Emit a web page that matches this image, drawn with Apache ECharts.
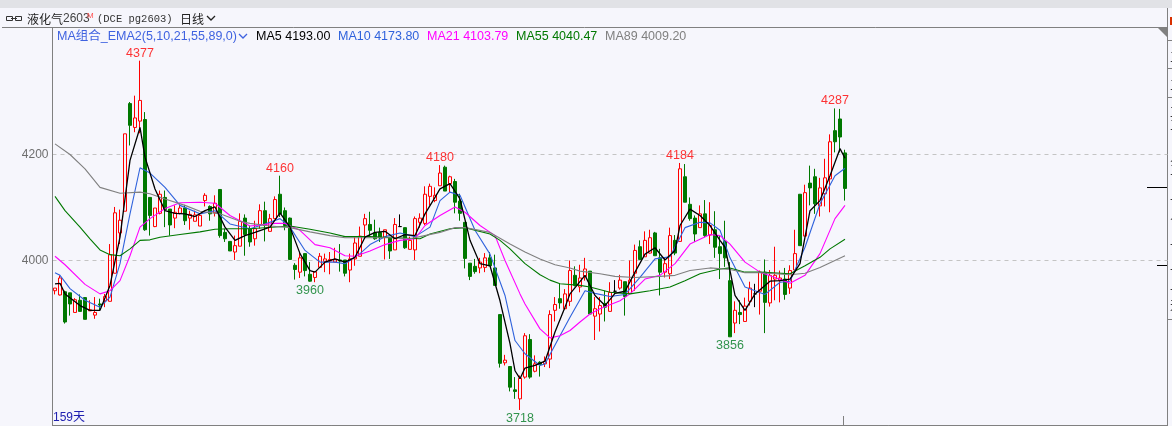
<!DOCTYPE html>
<html><head><meta charset="utf-8">
<style>html,body{margin:0;padding:0;background:#f6f6fc;overflow:hidden}#c{width:1172px;height:426px}</style>
<script src="https://cdn.jsdelivr.net/npm/echarts@6/dist/echarts.min.js"></script>
</head><body><div id="c"></div>
<script>
const opens=[3943,3935,3941,3939,3902,3925,3930,3905,3897,3918,3924,3923,3976,4052,4093,4296,4251,4263,4266,4119,4064,4089,4119,4097,4080,4089,4099,4080,4074,4065,4113,4102,4090,4134,4053,4036,4016,4027,4080,4060,4041,4068,4094,4055,4079,4125,4094,4080,3991,3978,4013,3974,3968,3987,3998,3999,3997,4001,4001,3982,4003,4008,4067,4068,4052,4053,4044,4044,4020,4064,4062,4021,4020,4072,4070,4121,4113,4141,4176,4145,4149,4112,4072,3995,3989,3986,3987,4005,3986,3898,3807,3800,3756,3739,3780,3851,3791,3808,3805,3814,3906,3928,3909,3923,3972,3950,3970,3980,3895,3899,3919,3904,3942,3948,3960,3938,3976,4026,4007,4014,4052,4005,3978,3975,4038,4036,4158,4106,4080,4062,4088,4048,4058,4026,4036,3962,3882,3902,3885,3923,3937,3942,3978,3920,3965,3962,3965,3948,3982,4125,4046,4146,4158,4103,4126,4154,4245,4267,4203];
const closes=[3948,3967,3884,3918,3926,3904,3889,3907,3902,3916,3932,4011,4090,4076,4239,4255,4269,4302,4058,4085,4099,4125,4096,4067,4091,4099,4075,4087,4086,4085,4123,4088,4108,4047,4041,4018,4028,4074,4049,4035,4060,4094,4066,4079,4115,4088,4066,4002,3983,4005,3981,3961,3979,4008,4003,4002,4002,3999,3976,4003,4033,4046,4079,4057,4041,4043,4058,4018,4068,4064,4024,4038,4079,4080,4125,4140,4123,4165,4131,4158,4110,4089,4004,3970,3979,3997,4005,3990,3953,3806,3812,3761,3753,3778,3858,3780,3805,3804,3810,3898,3917,3920,3937,3981,3953,3967,3984,3899,3909,3915,3912,3940,3942,3963,3932,3963,4019,4002,4038,4043,4009,3978,3994,4047,4014,4173,4110,4079,4050,4088,4047,4066,4025,4013,4005,3856,3906,3898,3914,3948,3937,3978,3921,3972,3972,3967,3936,3981,4013,4028,4128,4137,4107,4137,4156,4224,4224,4233,4136];
const lows=[3936,3934,3881,3896,3902,3904,3889,3905,3890,3906,3912,3923,3976,4031,4093,4217,4242,4240,4056,4047,4063,4087,4063,4047,4061,4087,4067,4058,4074,4065,4102,4075,4083,4043,4035,4018,4001,4027,4009,4026,4028,4060,4036,4055,4079,4082,4057,4002,3964,3967,3970,3960,3959,3987,3978,3974,3997,3979,3970,3959,3990,4008,4044,4044,4039,4035,4002,4003,4020,4064,4022,4021,4001,4062,4067,4104,4110,4141,4131,4129,4089,4075,3985,3963,3975,3976,3978,3990,3953,3798,3802,3753,3739,3718,3777,3777,3789,3781,3799,3797,3885,3909,3908,3914,3951,3940,3962,3899,3850,3866,3885,3904,3937,3945,3896,3937,3943,4002,4007,4013,4009,3934,3968,3965,4010,4036,4110,4075,4035,4062,4044,4031,4005,3965,3988,3856,3863,3880,3885,3915,3912,3898,3863,3913,3925,3921,3926,3937,3982,4028,4046,4104,4088,4083,4102,4091,4204,4204,4113];
const highs=[3948,3972,3943,3939,3929,3936,3931,3925,3931,3928,3937,4031,4101,4096,4239,4299,4311,4377,4280,4119,4099,4132,4132,4097,4104,4105,4105,4094,4094,4088,4127,4104,4123,4134,4060,4036,4047,4089,4087,4066,4075,4106,4111,4088,4121,4160,4100,4081,3995,4016,4013,3997,3979,4014,4013,4016,4024,4031,4001,4013,4044,4064,4088,4092,4077,4062,4058,4044,4080,4087,4062,4045,4083,4089,4140,4145,4138,4180,4179,4160,4154,4126,4072,3995,4003,4005,4014,4016,4011,3898,3822,3800,3780,3783,3863,3861,3821,3810,3819,3906,3931,3956,3946,4000,3989,3992,4005,3980,3931,3931,3943,3959,3963,3973,3960,4000,4030,4038,4055,4058,4054,4022,4005,4062,4048,4184,4182,4119,4085,4104,4114,4110,4093,4047,4075,3997,3923,3925,3930,3960,3956,3981,4002,3982,4026,3981,3986,3991,4058,4125,4143,4179,4173,4156,4192,4238,4287,4286,4209];
// moving-average points: [bar number, price]
const ma5Points=[[0,3956],[1,3957],[2,3937],[5,3915],[7,3906],[9,3906],[11,3953],[13,4044],[15,4189],[17,4251],[18,4195],[20,4135],[22,4094],[24,4089],[26,4088],[28,4083],[30,4094],[32,4101],[34,4063],[36,4038],[38,4047],[40,4053],[43,4063],[45,4090],[47,4063],[49,4013],[51,3981],[52,3978],[54,3997],[56,4003],[58,3997],[60,4006],[62,4044],[64,4053],[66,4055],[68,4041],[70,4049],[72,4047],[74,4088],[76,4119],[77,4135],[79,4145],[81,4116],[83,4038],[85,3994],[87,3990],[89,3924],[91,3843],[92,3792],[93,3777],[94,3797],[96,3802],[98,3810],[100,3865],[102,3912],[103,3937],[106,3972],[108,3934],[110,3915],[112,3938],[114,3942],[116,3978],[118,4012],[120,4024],[122,4001],[124,4019],[125,4066],[127,4097],[129,4085],[131,4066],[133,4038],[134,4025],[135,3981],[136,3934],[138,3906],[140,3937],[141,3945],[143,3961],[145,3962],[147,3965],[149,3994],[151,4094],[153,4113],[155,4160],[157,4211],[158,4193]];
const ma10Points=[[0,3977],[1,3972],[3,3947],[6,3925],[9,3912],[11,3931],[13,3994],[15,4088],[17,4175],[19,4165],[22,4138],[25,4104],[29,4088],[32,4094],[35,4069],[39,4060],[42,4069],[45,4079],[47,4063],[50,4019],[53,3997],[56,3997],[58,3994],[61,4013],[63,4030],[66,4045],[69,4052],[72,4045],[75,4063],[77,4113],[79,4129],[81,4123],[84,4057],[87,4012],[90,3934],[92,3849],[94,3824],[97,3802],[98,3805],[101,3858],[103,3893],[106,3943],[108,3938],[111,3932],[114,3936],[117,3968],[120,4003],[123,4007],[126,4062],[129,4072],[131,4071],[133,4057],[135,4005],[138,3950],[142,3936],[145,3959],[147,3961],[150,4025],[153,4107],[156,4160],[158,4174]];
const ma21Points=[[0,4008],[2,3992],[6,3955],[9,3937],[11,3943],[13,3962],[15,4009],[17,4063],[19,4079],[22,4098],[25,4109],[29,4110],[32,4108],[35,4085],[39,4065],[44,4070],[46,4070],[49,4057],[52,4030],[55,4024],[58,4009],[60,4008],[63,4018],[66,4030],[69,4038],[72,4041],[74,4066],[77,4085],[80,4101],[82,4091],[85,4066],[88,4047],[90,4000],[93,3937],[94,3918],[97,3871],[99,3854],[101,3858],[103,3868],[105,3884],[107,3899],[109,3909],[113,3924],[115,3937],[118,3965],[121,3972],[124,3994],[127,4031],[131,4049],[133,4047],[135,4031],[138,3997],[141,3978],[144,3968],[147,3957],[150,3972],[153,4013],[156,4079],[158,4104]];
const ma55Points=[[0,4121],[2,4094],[5,4063],[7,4041],[9,4020],[11,4011],[13,4009],[15,4022],[17,4038],[19,4039],[21,4044],[25,4049],[29,4054],[32,4059],[35,4060],[39,4060],[47,4065],[51,4059],[55,4052],[58,4045],[63,4045],[68,4043],[73,4041],[75,4050],[79,4060],[82,4062],[87,4050],[89,4038],[91,4022],[94,3994],[97,3973],[99,3963],[101,3956],[105,3953],[107,3950],[111,3940],[115,3937],[119,3943],[123,3950],[126,3962],[129,3975],[133,3984],[135,3986],[138,3978],[141,3978],[147,3975],[150,3990],[153,4006],[155,4022],[158,4040]];
const ma89Points=[[0,4220],[3,4200],[6,4173],[9,4138],[13,4127],[17,4129],[19,4126],[22,4116],[26,4104],[29,4093],[33,4088],[37,4074],[39,4070],[43,4065],[47,4062],[51,4054],[55,4047],[58,4043],[63,4043],[68,4043],[71,4041],[73,4045],[77,4053],[80,4062],[82,4062],[87,4053],[91,4031],[94,4016],[97,4003],[100,3992],[103,3986],[105,3980],[109,3975],[112,3970],[116,3968],[121,3970],[124,3972],[127,3981],[131,3986],[135,3983],[138,3977],[141,3977],[147,3973],[150,3976],[153,3987],[158,4009]];
const highMarks=[17,45,77,125,156];
const lowMarks=[51,93,135];
const yTicks=[4000,4200];
const maNames=['MA5','MA10','MA21','MA55','MA89'];
const maLast=['4193.00','4173.80','4103.79','4040.47','4009.20'];
const comboLabel='MA组合_EMA2(5,10,21,55,89,0)';
const titleParts=['液化气','2603','M','(DCE pg2603)','日线'];
const dayCount='159天';
const sideGlyphs=['三','三','工','三','人','三','上','人','上','上','上','天'];

const RED='#ff0000',GREEN='#007800';
const maColors=['#000000','#2f62dc','#ff00ff','#007800','#808080'];
const maLists=[ma5Points,ma10Points,ma21Points,ma55Points,ma89Points];
const slots=223;
const cats=Array.from({length:slots},(_,i)=>String(i));
const candle=opens.map((o,i)=>[o,closes[i],lows[i],highs[i]]);
const txt=(x,y,text,fill,font)=>({type:'text',silent:true,x,y,style:{text,fill,font,verticalAlign:'middle'}});
const ln=(x1,y1,x2,y2,stroke)=>({type:'line',silent:true,shape:{x1,y1,x2,y2},style:{stroke,lineWidth:1}});
const chev=(x,y,stroke)=>({type:'polyline',silent:true,shape:{points:[[x,y],[x+4,y+4],[x+8,y]]},style:{stroke,fill:null,lineWidth:1.3}});
const LAT='"Liberation Sans",Arial,sans-serif',CJK='"Noto Sans CJK SC",sans-serif';
const maX=[256,338,427,516,605];
const sideY=[57,85,112,125,157,170,195,215,240,265,285,305];
const graphics=[
 {type:'rect',silent:true,z:-1,shape:{x:0,y:0,width:1172,height:8},style:{fill:'#e1e2e6'}},
 ln(2,27.5,1167,27.5,'#808080'),
 ln(1167.5,8,1167.5,426,'#808080'),
 ln(843.5,416,843.5,425,'#808080'),
 {type:'polygon',silent:true,shape:{points:[[1158,28],[1167,28],[1167,37]]},style:{fill:'#808080'}},
 {type:'rect',silent:true,shape:{x:6.5,y:16.5,width:6,height:4},style:{stroke:'#333',fill:null,lineWidth:1}},
 {type:'rect',silent:true,shape:{x:15.5,y:16.5,width:6,height:4},style:{stroke:'#333',fill:null,lineWidth:1}},
 ln(11,18.5,17,18.5,'#333'),
 txt(27,19,titleParts[0],'#222','12px '+CJK),
 txt(63,19,titleParts[1],'#444','12px '+LAT),
 txt(87,16,titleParts[2],'#ff5050','8px '+LAT),
 txt(97,19,titleParts[3],'#333','10.5px "Liberation Mono",monospace'),
 txt(180,19,titleParts[4],'#222','12px '+CJK),
 chev(207,16,'#222'),
 txt(57,37,comboLabel,'#3f62e0','12.5px '+LAT+','+CJK),
 chev(239,34,'#3f62e0'),
 txt(53,418,dayCount,'#2020b0','12px '+LAT+','+CJK),
 ln(1147,187.5,1167,187.5,'#000'),
 ln(1157,265.5,1167,265.5,'#000'),
 {type:'rect',silent:true,shape:{x:1170,y:17,width:2,height:8},style:{fill:'#d83000'}},
 ln(1168,40.5,1172,40.5,'#808080'),ln(1168,68.5,1172,68.5,'#808080'),
 ln(1168,97.5,1172,97.5,'#808080'),ln(1168,319.5,1172,319.5,'#808080'),
 ...sideGlyphs.map((g,i)=>txt(1170,sideY[i],g,'#333','12px '+CJK)),
 ...maNames.map((n,i)=>txt(maX[i],37,n+' '+maLast[i],maColors[i],'12.5px '+LAT))
];
const chart=echarts.init(document.getElementById('c'),null,{renderer:'canvas'});
chart.setOption({
 animation:false,
 backgroundColor:'#f6f6fc',
 grid:{left:52.5,top:27.5,width:1115,height:398,show:false},
 xAxis:{type:'category',data:cats,boundaryGap:true,
  axisLine:{show:true,onZero:false,lineStyle:{color:'#808080',width:1}},
  axisLabel:{show:false},axisTick:{show:false},splitLine:{show:false}},
 yAxis:{type:'value',min:3688.7,max:4439.6,scale:true,
  axisLine:{show:true,lineStyle:{color:'#808080',width:1}},
  axisTick:{show:false,customValues:yTicks},
  axisLabel:{color:'#6e6e6e',fontFamily:'Liberation Sans',fontSize:12,margin:4,customValues:yTicks,formatter:v=>String(v)},
  splitLine:{show:true,lineStyle:{color:'#c4c4c4',type:[4,4],width:1}}},
 series:[
  {type:'candlestick',data:candle,barWidth:3,clip:true,z:2,
   itemStyle:{color:'transparent',color0:GREEN,borderColor:RED,borderColor0:GREEN,borderColorDoji:'#000',borderWidth:1}},
  ...maLists.map((pts,i)=>({type:'line',name:maNames[i],data:pts,showSymbol:false,symbol:'none',z:i===0?4:3,
    lineStyle:{color:maColors[i],width:i===0?1.3:1.1},silent:true,animation:false})),
  {type:'scatter',symbolSize:0,silent:true,z:5,data:highMarks.map(i=>[i,highs[i]]),
   label:{show:true,position:'top',distance:1,color:RED,fontSize:12.5,fontFamily:'Liberation Sans',formatter:p=>String(p.value[1])}},
  {type:'scatter',symbolSize:0,silent:true,z:5,data:lowMarks.map(i=>[i,lows[i]]),
   label:{show:true,position:'bottom',distance:2,color:'#007a20',fontSize:12.5,fontFamily:'Liberation Sans',formatter:p=>String(p.value[1])}}
 ],
 graphic:graphics
});
</script></body></html>
